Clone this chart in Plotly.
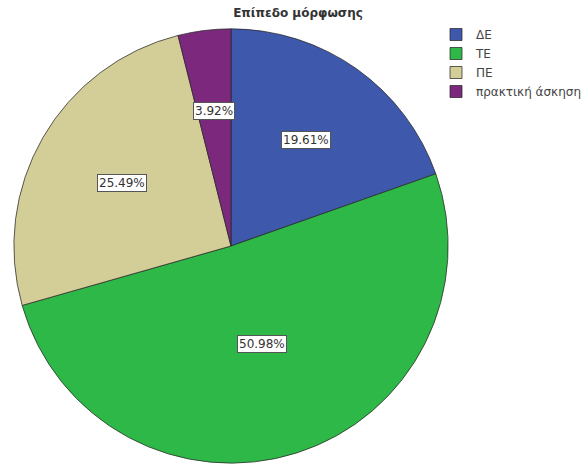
import math
import plotly.graph_objects as go

# Education level distribution (counts; shares shown as percentages)
categories = ["ΔΕ", "ΤΕ", "ΠΕ", "πρακτική άσκηση"]
counts = [10, 26, 13, 2]
colors = ["#3E58AC", "#2EB848", "#D3CE97", "#7C287D"]
title_text = "Επίπεδο μόρφωσης"

W, H = 587, 465
# pie placement in pixels (centre and radius)
CX, CY, R = 233, 246, 219

total = sum(counts)
shares = [c / total for c in counts]

fig = go.Figure(
    go.Pie(
        labels=categories,
        values=counts,
        sort=False,
        direction="clockwise",
        rotation=0,
        marker=dict(colors=colors, line=dict(color="rgba(40,40,40,0.75)", width=1)),
        textinfo="none",
        hoverinfo="label+percent",
        domain=dict(x=[(CX - R) / W, (CX + R) / W], y=[1 - (CY + R) / H, 1 - (CY - R) / H]),
    )
)

# boxed percentage labels, placed between the slice centroid and mid-radius
annotations = []
cum = 0.0
for p in shares:
    mid = (cum + p / 2) * 2 * math.pi  # clockwise from 12 o'clock
    half = math.pi * p
    centroid = 2 * math.sin(half) / (3 * half)
    frac = 0.6 * centroid + 0.4 * 0.55
    d = frac * R
    px = CX + d * math.sin(mid)
    py = CY - d * math.cos(mid)
    annotations.append(
        dict(
            x=px / W,
            y=1 - py / H,
            xref="paper",
            yref="paper",
            text=f"{p * 100:.2f}%",
            showarrow=False,
            font=dict(family="DejaVu Sans", size=12, color="#333333"),
            bgcolor="white",
            bordercolor="#555555",
            borderwidth=1,
            borderpad=1,
            xanchor="center",
            yanchor="middle",
        )
    )
    cum += p

fig.update_layout(
    width=W,
    height=H,
    margin=dict(l=0, r=0, t=0, b=0),
    paper_bgcolor="white",
    plot_bgcolor="white",
    title=dict(
        text=f"<b>{title_text}</b>",
        x=298 / W,
        xanchor="center",
        y=1 - 13 / H,
        yanchor="middle",
        font=dict(family="DejaVu Sans", size=12, color="#333333"),
    ),
    legend=dict(
        x=440 / W,
        y=1 - 20 / H,
        xanchor="left",
        yanchor="top",
        font=dict(family="DejaVu Sans", size=12, color="#444444"),
        bgcolor="rgba(0,0,0,0)",
        traceorder="normal",
    ),
    annotations=annotations,
)

fig.write_html("out.html")
